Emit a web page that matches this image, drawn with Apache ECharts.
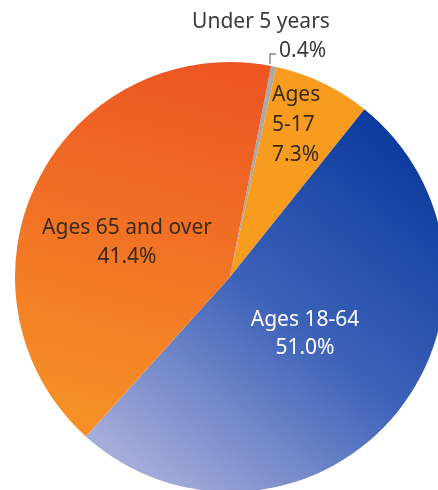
<!DOCTYPE html>
<html><head><meta charset="utf-8">
<script src="https://cdn.jsdelivr.net/npm/echarts@6/dist/echarts.min.js"></script>
<style>html,body{margin:0;padding:0;background:#fff}#c{width:438px;height:490px}</style>
</head><body><div id="c"></div>
<script>
var categories = ["Under 5 years", "Ages 5-17", "Ages 18-64", "Ages 65 and over"];
var values = [0.4, 7.3, 51.0, 41.4];
var labelNames = ["Under 5 years", "Ages\n5-17", "Ages 18-64", "Ages 65 and over"];

var FONT = "Noto Sans";
var FS = 21;
var chart = echarts.init(document.getElementById('c'), null, {renderer: 'canvas'});
var pct = values.map(function(v){ return v.toFixed(1) + '%'; });

var colors = [
  '#A9A9A9',
  '#F89C1F',
  {type:'linear', x:400, y:140, x2:140, y2:470, global:true,
   colorStops:[{offset:0,color:'#0B3B9E'},{offset:0.5,color:'#3D62B8'},{offset:1,color:'#A4ACD9'}]},
  {type:'linear', x:200, y:70, x2:110, y2:420, global:true,
   colorStops:[{offset:0,color:'#EC5623'},{offset:1,color:'#F68F26'}]}
];

function txt(x, y, s, fill, align, lh) {
  return {type:'text', x:x, y:y, z:10,
    style:{text:s, font:FS+'px "'+FONT+'"', fill:fill, align:align, verticalAlign:'top', lineHeight:lh}};
}

chart.setOption({
  animation:false,
  series:[{
    type:'pie',
    center:[230,277],
    radius:[0,215],
    startAngle:79,
    clockwise:true,
    label:{show:false},
    labelLine:{show:false},
    itemStyle:{borderWidth:0},
    data: categories.map(function(c,i){
      return {name:c, value:values[i], itemStyle:{color:colors[i]}};
    })
  }],
  graphic:[
    txt(261, 22-15, labelNames[0], '#3a3a3a', 'center', 30),
    {type:'polyline', z:10, shape:{points:[[270,64],[270,54],[276,54]]}, style:{stroke:'#8a8a8a', lineWidth:1.5, fill:null}},
    txt(279, 51-15, pct[0], '#3a3a3a', 'left', 30),
    txt(272, 95-15, labelNames[1]+'\n'+pct[1], '#3a2a1a', 'left', 30),
    txt(305, 320-14, labelNames[2]+'\n'+pct[2], '#ffffff', 'center', 28),
    txt(127, 228-14.5, labelNames[3]+'\n'+pct[3], '#3a2a1a', 'center', 29)
  ]
});
</script></body></html>
